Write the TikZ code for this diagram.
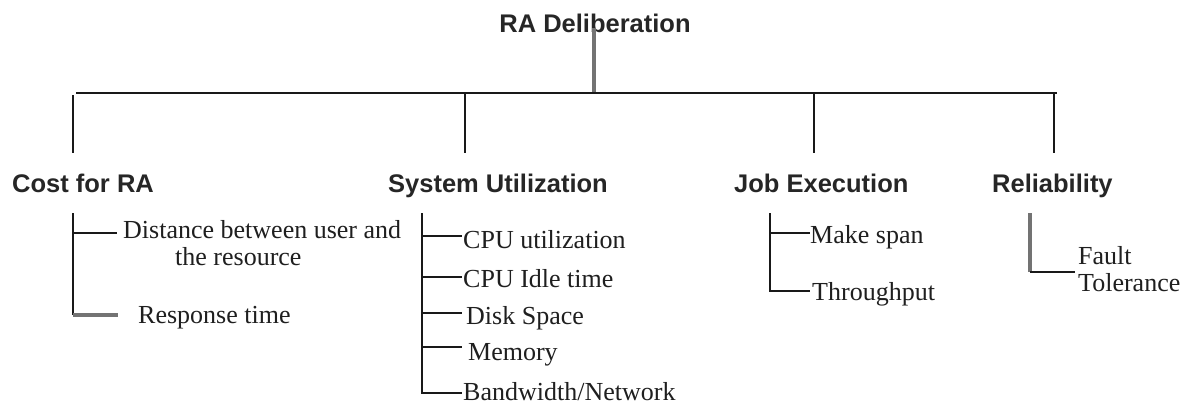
\documentclass[tikz,border=0pt]{standalone}
\usepackage{fontspec}
\setmainfont{Liberation Serif}
\newfontfamily\headfont{Liberation Sans}
\begin{document}
\begin{tikzpicture}[x=1pt,y=-1pt,
  head/.style={font=\headfont\bfseries\fontsize{25.5}{30}\selectfont, inner sep=0, text=black!85, anchor=base west},
  leaf/.style={font=\fontsize{26}{30}\selectfont, inner sep=0, anchor=base west, text=black!88},
  ln/.style={line width=2pt, black!90},
  gln/.style={line width=3.2pt, black!55}]
\path[fill=white] (0,0) rectangle (1189,405);
% title and top bar
\node[head, anchor=base] (title) at (595,32) {RA Deliberation};
\coordinate (tv) at (594,28);
\coordinate (bar) at (594,93);
\coordinate (barL) at (76,93);
\coordinate (barR) at (1057,93);
\draw[gln] (tv) -- (bar);
\draw[ln] (barL) -- (barR);
% drops
\coordinate (j1) at (73,95);   \coordinate (e1) at (73,153);
\coordinate (j2) at (465,93);  \coordinate (e2) at (465,153);
\coordinate (j3) at (814,93);  \coordinate (e3) at (814,153);
\coordinate (j4) at (1054,93); \coordinate (e4) at (1054,153);
\draw[ln] (j1) -- (e1);
\draw[ln] (j2) -- (e2);
\draw[ln] (j3) -- (e3);
\draw[ln] (j4) -- (e4);
% headers
\node[head] (cost) at (12,192) {Cost for RA};
\node[head] (sys) at (388,192) {System Utilization};
\node[head] (job) at (734,192) {Job Execution};
\node[head] (rel) at (992,192) {Reliability};
% Cost for RA
\node[leaf] (dist) at (123,238) {Distance between user and};
\node[leaf] (distb) at (175,265) {the resource};
\node[leaf] (resp) at (138,323) {Response time};
\coordinate (s1) at (73,213);
\coordinate (b11) at (117,233);
\coordinate (k12) at (73,315);
\coordinate (b12) at (118,315);
\draw[ln] (s1) -- (k12);
\draw[ln] (s1 |- b11) -- (b11);
\draw[gln] (k12) -- (b12);
% System Utilization
\node[leaf] (cpuu) at (463,248) {CPU utilization};
\node[leaf] (cpui) at (463,287) {CPU Idle time};
\node[leaf] (disk) at (466,324) {Disk Space};
\node[leaf] (mem) at (468,360) {Memory};
\node[leaf] (bw) at (463,400) {Bandwidth/Network};
\coordinate (s2) at (422,213);
\coordinate (b21) at (462,236);
\coordinate (b22) at (462,277);
\coordinate (b23) at (462,313);
\coordinate (b24) at (462,347);
\coordinate (b25) at (462,393);
\draw[ln] (s2) |- (b25);
\foreach \b in {b21,b22,b23,b24} \draw[ln] (s2 |- \b) -- (\b);
% Job Execution
\node[leaf] (mk) at (810,243) {Make span};
\node[leaf] (tp) at (812,300) {Throughput};
\coordinate (s3) at (770,213);
\coordinate (b31) at (810,233);
\coordinate (b32) at (810,291);
\draw[ln] (s3) |- (b32);
\draw[ln] (s3 |- b31) -- (b31);
% Reliability
\node[leaf] (ft1) at (1078,264) {Fault};
\node[leaf] (ft2) at (1078,291) {Tolerance};
\coordinate (s4) at (1030,213);
\coordinate (k41) at (1030,272);
\coordinate (b41) at (1075,272);
\draw[gln] (s4) -- (k41);
\draw[ln] (k41) -- (b41);
\end{tikzpicture}
\end{document}
